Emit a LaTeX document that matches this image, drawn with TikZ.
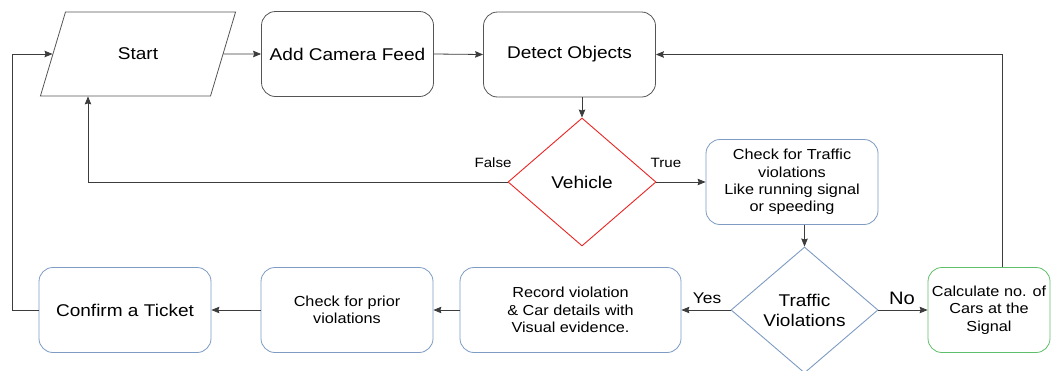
\documentclass[tikz,border=0pt]{standalone}
\usepackage{fontspec}
\setmainfont[FakeStretch=1.12]{Liberation Sans}
\usepackage{tikz}
\usetikzlibrary{shapes.geometric, arrows.meta}

\definecolor{boxgray}{RGB}{85,85,85}
\definecolor{boxblue}{RGB}{125,155,195}
\definecolor{boxgreen}{RGB}{95,190,105}
\definecolor{boxred}{RGB}{235,35,35}
\definecolor{linegray}{RGB}{60,60,60}

\tikzset{
	bigtext/.style={font=\fontsize{17}{20}\selectfont},
	smalltext/.style={font=\fontsize{14.5}{17.4}\selectfont},
	roundbox/.style={draw, rectangle, rounded corners=14pt, line width=0.8pt,
		minimum width=172pt, minimum height=85pt, inner sep=0pt, align=center},
	decision/.style={draw, diamond, line width=0.9pt, inner sep=0pt, align=center},
	flow/.style={-{Stealth[length=8pt, width=6.5pt, inset=1pt]}, line width=0.8pt, color=linegray},
	lbl/.style={inner sep=0pt}
}

\begin{document}
\begin{tikzpicture}[x=1pt, y=-1pt]
	\useasboundingbox (0,0) rectangle (1051,370);
	
	% top row
	\node[draw, trapezium, trapezium left angle=60, trapezium right angle=120,
		trapezium stretches=true, minimum width=196pt, minimum height=84pt,
		inner sep=0pt, line width=0.8pt, color=boxgray, text=black, bigtext] (start) at (138, 54) {Start};
	\node[roundbox, color=boxgray, text=black, bigtext] (camera) at (347.5, 54) {Add Camera Feed};
	\node[roundbox, color=boxgray, text=black, bigtext] (detect) at (569.5, 54.5) {Detect Objects};
	
	% middle row
	\node[decision, color=boxred, text=black, bigtext, minimum width=148pt, minimum height=128pt] (vehicle) at (582, 182) {Vehicle};
	\node[roundbox, color=boxblue, text=black, smalltext] (check) at (792, 182) {Check for Traffic\\violations\\Like running signal\\or speeding};
	
	% bottom row
	\node[decision, color=boxblue, text=black, bigtext, minimum width=147pt, minimum height=126pt] (traffic) at (804.5, 310) {Traffic\\Violations};
	\node[roundbox, color=boxgreen, text=black, smalltext, minimum width=122pt] (calc) at (989, 310) {Calculate no. of\\Cars at the\\Signal};
	\node[roundbox, color=boxblue, text=black, smalltext, minimum width=221pt] (record) at (570.5, 310) {Record violation\\\& Car details with\\Visual evidence.};
	\node[roundbox, color=boxblue, text=black, smalltext] (prior) at (347, 310) {Check for prior\\violations};
	\node[roundbox, color=boxblue, text=black, bigtext] (confirm) at (125, 310) {Confirm a Ticket};
	
	% labels
	\node[lbl, font=\fontsize{13.5}{16}\selectfont] (falselbl) at (493, 163) {False};
	\node[lbl, font=\fontsize{13.5}{16}\selectfont] (truelbl) at (666, 163) {True};
	\node[lbl, font=\fontsize{15.5}{18}\selectfont] (yeslbl) at (707, 298) {Yes};
	\node[lbl, font=\fontsize{18}{21}\selectfont] (nolbl) at (902, 298) {No};
	
	\coordinate (falseturn) at (88, 182);
	\coordinate (loopx) at (12, 0);
	
	\draw[flow] (start.east) -- (camera.west);
	\draw[flow] (camera.east) -- (detect.west);
	\draw[flow] (detect.south -| vehicle.north) -- (vehicle.north);
	\draw[flow] (vehicle.west) -- (falseturn) -- (falseturn |- start.south);
	\draw[flow] (vehicle.east) -- (check.west);
	\draw[flow] (check.south -| traffic.north) -- (traffic.north);
	\draw[flow] (traffic.west) -- (record.east);
	\draw[flow] (traffic.east) -- (calc.west);
	\draw[flow] ([xshift=13pt]calc.north) |- (detect.east);
	\draw[flow] (record.west) -- (prior.east);
	\draw[flow] (prior.west) -- (confirm.east);
	\draw[flow] (confirm.west) -- (confirm.west -| loopx) |- (start.west);
	
\end{tikzpicture}
\end{document}
